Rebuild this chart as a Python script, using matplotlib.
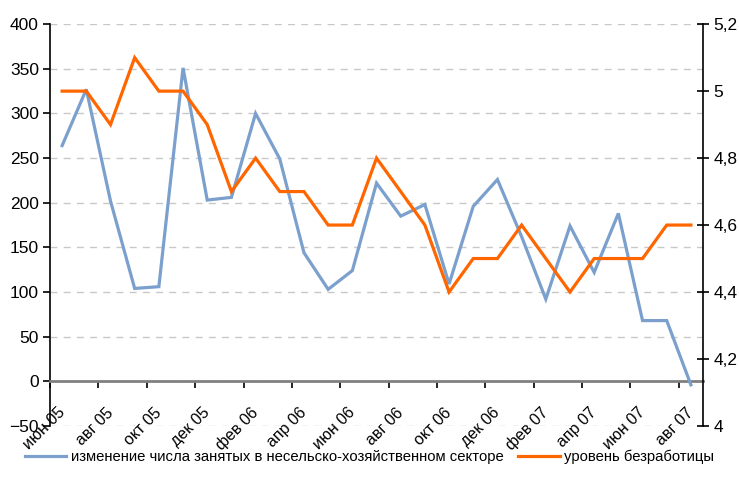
import numpy as np
import matplotlib
matplotlib.use("Agg")
import matplotlib.pyplot as plt
import matplotlib.transforms as mtransforms
from matplotlib.ticker import FixedLocator, FuncFormatter

plt.rcParams['font.family'] = ['Liberation Sans Narrow', 'Liberation Sans', 'DejaVu Sans']

# --- DATA ---
months = ['июн 05', 'июл 05', 'авг 05', 'сен 05', 'окт 05', 'ноя 05', 'дек 05',
          'янв 06', 'фев 06', 'мар 06', 'апр 06', 'май 06', 'июн 06', 'июл 06',
          'авг 06', 'сен 06', 'окт 06', 'ноя 06', 'дек 06', 'янв 07', 'фев 07',
          'мар 07', 'апр 07', 'май 07', 'июн 07', 'июл 07', 'авг 07']
payrolls = [264, 327, 202, 104, 106, 351, 203, 206, 300, 249, 144, 103, 124, 222,
            185, 198, 109, 196, 226, 162, 92, 174, 122, 188, 68, 68, -4]
unemployment = [5.0, 5.0, 4.9, 5.1, 5.0, 5.0, 4.9, 4.7, 4.8, 4.7, 4.7, 4.6, 4.6, 4.8,
                4.7, 4.6, 4.4, 4.5, 4.5, 4.6, 4.5, 4.4, 4.5, 4.5, 4.5, 4.6, 4.6]
label_payrolls = 'изменение числа занятых в несельско-хозяйственном секторе'
label_unemp = 'уровень безработицы'

BLUE = '#7BA0CD'
ORANGE = '#FF6600'

x = np.arange(len(months))

fig = plt.figure(figsize=(7.39, 4.93), dpi=100)
ax = fig.add_axes([0.0677, 0.136, 0.8836, 0.815])
ax2 = ax.twinx()

l1, = ax.plot(x, payrolls, color=BLUE, lw=2.3, solid_joinstyle='miter', zorder=3)
l2, = ax2.plot(x, unemployment, color=ORANGE, lw=2.3, solid_joinstyle='miter', zorder=3)

ax.set_xlim(-0.5, len(months) - 0.5)
ax.set_ylim(-50, 400)
ax.set_yticks(np.arange(-50, 401, 50))
ax2.set_ylim(4, 5.2)
ax2.set_yticks([4.0, 4.2, 4.4, 4.6, 4.8, 5.0, 5.2])
ax2.yaxis.set_major_formatter(FuncFormatter(lambda v, p: ('%g' % round(v, 1)).replace('.', ',')))

# grid
ax.yaxis.grid(True, color='#C8C8C8', linestyle=(0, (5, 4.5)), linewidth=1)
ax.set_axisbelow(True)

# spines
ax.spines['top'].set_visible(False)
ax2.spines['top'].set_visible(False)
ax.spines['right'].set_visible(False)
ax2.spines['left'].set_visible(False)
ax2.spines['bottom'].set_visible(False)
ax.spines['bottom'].set_position(('data', 0))
ax.spines['bottom'].set_color('#808080')
ax.spines['bottom'].set_linewidth(2)
ax.spines['left'].set_linewidth(1.2)
ax2.spines['right'].set_linewidth(1.2)

# x ticks: marks at every 2nd category boundary, labels at every 2nd category
ax.xaxis.set_major_locator(FixedLocator(np.arange(-0.5, len(months), 2)))
ax.xaxis.set_major_formatter(FuncFormatter(lambda v, p: ''))
ax.xaxis.set_minor_locator(FixedLocator(x[::2]))
ax.set_xticklabels(months[::2], minor=True)
ax.tick_params(axis='x', which='major', direction='out', length=5, width=1.2, color='black')
ax.tick_params(axis='x', which='minor', length=0, pad=17, labelsize=11.5)
offset = mtransforms.ScaledTranslation(-0.05, 0, fig.dpi_scale_trans)
for lab in ax.get_xticklabels(minor=True):
    lab.set_rotation(45)
    lab.set_ha('right')
    lab.set_va('top')
    lab.set_rotation_mode('anchor')
    lab.set_transform(lab.get_transform() + offset)

ax.tick_params(axis='y', direction='out', length=5, width=1.2, labelsize=12.5, pad=3)
ax2.tick_params(axis='y', direction='inout', length=9, width=1.2, labelsize=12.5, pad=3)

fig.legend([l1, l2], [label_payrolls, label_unemp], loc='center', bbox_to_anchor=(0.5, 0.073),
           ncol=2, frameon=False, fontsize=10.7, handlelength=2.8, handletextpad=0.3,
           columnspacing=1.0)

fig.savefig('out.png', dpi=100)
